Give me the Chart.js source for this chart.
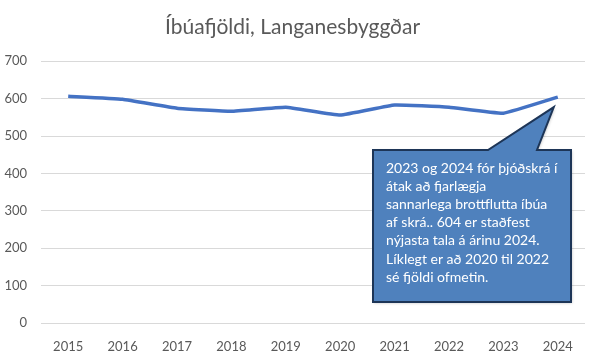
<!DOCTYPE html>
<html>
<head>
<meta charset="utf-8">
<script src="https://cdn.jsdelivr.net/npm/chart.js@4"></script>
<style>
  body { margin: 0; background: #fff; }
  canvas { display: block; }
</style>
</head>
<body>
<canvas id="ibuar" width="592" height="359"></canvas>
<script>
// Gögn
const ar = ['2015', '2016', '2017', '2018', '2019', '2020', '2021', '2022', '2023', '2024'];
const ibuar = [606, 598, 574, 566, 577, 556, 583, 577, 561, 604];
const yTicks = [0, 100, 200, 300, 400, 500, 600, 700];

const athugasemd = [
    '2023 og 2024 fór þjóðskrá í',
    'átak að fjarlægja',
    'sannarlega brottflutta íbúa',
    'af skrá.. 604 er staðfest',
    'nýjasta tala á árinu 2024.',
    'Líklegt er að 2020 til 2022',
    'sé fjöldi ofmetin.'
];

const font = 'Lato, "Liberation Sans", sans-serif';

// Talblaðra (callout) teiknuð ofan á línuna
const talbladra = {
    id: 'talbladra',
    afterDatasetsDraw(chart) {
        const c = chart.ctx;
        const pt = chart.getDatasetMeta(0).data[ar.length - 1];
        const tipX = pt.x - 4, tipY = pt.y + 10;
        const L = 373, T = 150, R = 571, B = 302;
        c.save();
        c.beginPath();
        c.moveTo(L, T);
        c.lineTo(488, T);
        c.lineTo(tipX, tipY);
        c.lineTo(537, T);
        c.lineTo(R, T);
        c.lineTo(R, B);
        c.lineTo(L, B);
        c.closePath();
        c.shadowColor = 'rgba(0,0,0,0.25)';
        c.shadowBlur = 3;
        c.shadowOffsetX = 1;
        c.shadowOffsetY = 1;
        c.fillStyle = '#4F81BD';
        c.fill();
        c.shadowColor = 'transparent';
        c.lineWidth = 2;
        c.strokeStyle = '#1D3557';
        c.stroke();

        c.fillStyle = '#ffffff';
        c.font = '14px ' + font;
        c.textBaseline = 'middle';
        c.textAlign = 'left';
        athugasemd.forEach((lina, i) => {
            c.fillText(lina, 386, 168 + i * 18.2);
        });
        c.restore();
    }
};

new Chart(document.getElementById('ibuar'), {
    type: 'line',
    data: {
        labels: ar,
        datasets: [{
            label: 'Íbúafjöldi',
            data: ibuar,
            borderColor: '#4472C4',
            borderWidth: 3.5,
            pointRadius: 0,
            tension: 0.1,
            fill: false
        }]
    },
    options: {
        responsive: false,
        animation: false,
        layout: {
            padding: { left: 0, right: 7, top: 0, bottom: 0 }
        },
        scales: {
            x: {
                offset: true,
                grid: { display: false },
                border: { display: false },
                ticks: {
                    color: '#595959',
                    font: { family: font, size: 13 },
                    padding: 8,
                    maxRotation: 0
                },
                afterFit(scale) { scale.height = 36; }
            },
            y: {
                min: 0,
                max: 700,
                afterBuildTicks(scale) {
                    scale.ticks = yTicks.map(v => ({ value: v }));
                },
                grid: { color: '#D9D9D9', lineWidth: 1, drawTicks: false },
                border: { display: false },
                ticks: {
                    color: '#595959',
                    font: { family: font, size: 13 },
                    padding: 14
                },
                afterFit(scale) { scale.width = 41; }
            }
        },
        plugins: {
            legend: { display: false },
            tooltip: { enabled: false },
            title: {
                display: true,
                text: 'Íbúafjöldi, Langanesbyggðar',
                color: '#595959',
                font: { family: font, size: 21, weight: 'normal' },
                padding: { top: 15, bottom: 21 }
            }
        }
    },
    plugins: [talbladra]
});
</script>
</body>
</html>
